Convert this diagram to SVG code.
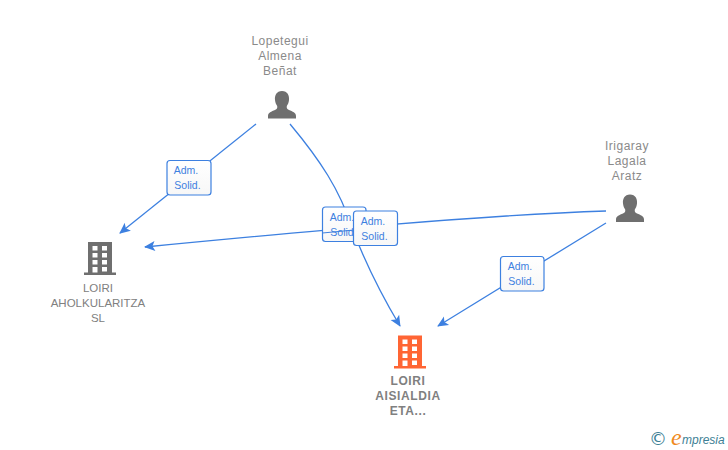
<svg xmlns="http://www.w3.org/2000/svg" width="728" height="450" viewBox="0 0 728 450">
<style>
text{font-family:"Liberation Sans",Arial,sans-serif}
.n{font-size:12px;fill:#8a8a8a;text-anchor:middle;letter-spacing:.5px}
.c{font-size:11.5px;fill:#808080;text-anchor:middle}
.o{font-weight:bold;font-size:12px;fill:#808080;text-anchor:middle;letter-spacing:.6px}
.e{fill:none;stroke:#3d80e0;stroke-width:1.3}
.b{fill:url(#g);stroke:#3d80e0;stroke-width:1.2}
.l{font-size:10.5px;fill:#3d80e0;text-anchor:middle}
</style>
<defs>
<linearGradient id="g" x1="0" y1="0" x2="0" y2="1"><stop offset="0" stop-color="#fff"/><stop offset="1" stop-color="#f7f7f7"/></linearGradient>
<marker id="a" viewBox="0 0 12 12" refX="11" refY="6" markerWidth="12" markerHeight="12" markerUnits="userSpaceOnUse" orient="auto"><path d="M1 1 L12 6 L1 11 L3.500 6 Z" fill="#3d80e0"/></marker>
<g id="person"><path d="M0 -19 C-5.500 -19 -7.500 -14.500 -7 -10 C-6.800 -7.500 -5.800 -5.500 -4.800 -4 C-4.500 -1.500 -5 -1 -7 0 C-10.500 1.500 -14 2.500 -14 6 L-14 8.500 L14 8.500 L14 6 C14 2.500 10.500 1.500 7 0 C5 -1 4.500 -1.500 4.800 -4 C5.800 -5.500 6.800 -7.500 7 -10 C7.500 -14.500 5.500 -19 0 -19 Z" fill="#6f6f6f"/></g>
<g id="bld"><path fill-rule="evenodd" d="M-12 -17 H12 V13.500 H16 V16 H-16 V13.500 H-12 Z M-7.500 -13 V-8.500 H-2.500 V-13 Z M2 -13 V-8.500 H7 V-13 Z M-7.500 -6 V-1.500 H-2.500 V-6 Z M2 -6 V-1.500 H7 V-6 Z M-7.500 1 V5.500 H-2.500 V1 Z M2 1 V5.500 H7 V1 Z M-7.500 8 V13.500 H-2.500 V8 Z M2 8 V12.500 H7 V8 Z"/></g>
</defs>
<g id="connectors">
<path class="e" d="M256 124 L120 233" marker-end="url(#a)"/>
<path class="e" d="M290 124 C320 160 340 190 352 228 C365 262 382 296 400 326" marker-end="url(#a)"/>
<path class="e" d="M606 211 C480 215 300 232 145 247" marker-end="url(#a)"/>
<path class="e" d="M606 223 L438 326" marker-end="url(#a)"/>
</g>
<g id="label-1"><rect class="b" x="167" y="160.500" width="44" height="34.500" rx="3"/><text class="l" x="186" y="174">Adm.</text><text class="l" x="187.500" y="189">Solid.</text></g>
<g id="label-2"><rect class="b" x="322.500" y="207" width="43.500" height="34.500" rx="3"/><text class="l" x="342" y="220.500">Adm.</text><text class="l" x="343.500" y="235.500">Solid.</text></g>
<path class="e" d="M322.500 233 L354 230" style="stroke-width:1"/>
<g id="label-3"><rect class="b" x="353.500" y="211" width="44" height="34.500" rx="3"/><text class="l" x="373" y="224.500">Adm.</text><text class="l" x="374.500" y="239.500">Solid.</text></g>
<g id="label-4"><rect class="b" x="500.500" y="256.500" width="43.500" height="34.500" rx="3"/><text class="l" x="520" y="270">Adm.</text><text class="l" x="521.500" y="285">Solid.</text></g>
<g id="node-lopetegui"><text class="n" x="280" y="45">Lopetegui</text><text class="n" x="280" y="60">Almena</text><text class="n" x="280" y="75">Beñat</text><use href="#person" x="282" y="110"/></g>
<g id="node-irigaray"><text class="n" x="627" y="150">Irigaray</text><text class="n" x="627" y="165">Lagala</text><text class="n" x="627" y="180">Aratz</text><use href="#person" x="630" y="213.500"/></g>
<g id="node-aholku"><use href="#bld" x="100" y="259" fill="#6f6f6f"/><text class="c" x="98" y="292">LOIRI</text><text class="c" x="98" y="307">AHOLKULARITZA</text><text class="c" x="98" y="322">SL</text></g>
<g id="node-aisialdia"><use href="#bld" x="410" y="352.500" fill="#ff6534"/><text class="o" x="408" y="385">LOIRI</text><text class="o" x="408" y="400">AISIALDIA</text><text class="o" x="408" y="415">ETA...</text></g>
<g id="logo"><text x="658" y="445" font-size="18" fill="#3d7f95" text-anchor="middle" style="font-family:'DejaVu Sans',sans-serif">©</text><text x="671" y="445" font-size="24" fill="#f08a1d" style="font-family:'Liberation Serif',serif;font-style:italic">e</text><text x="682" y="444" font-size="12" fill="#3d7f95" style="font-family:'Liberation Sans',sans-serif;font-style:italic">mpresia</text></g>
</svg>
